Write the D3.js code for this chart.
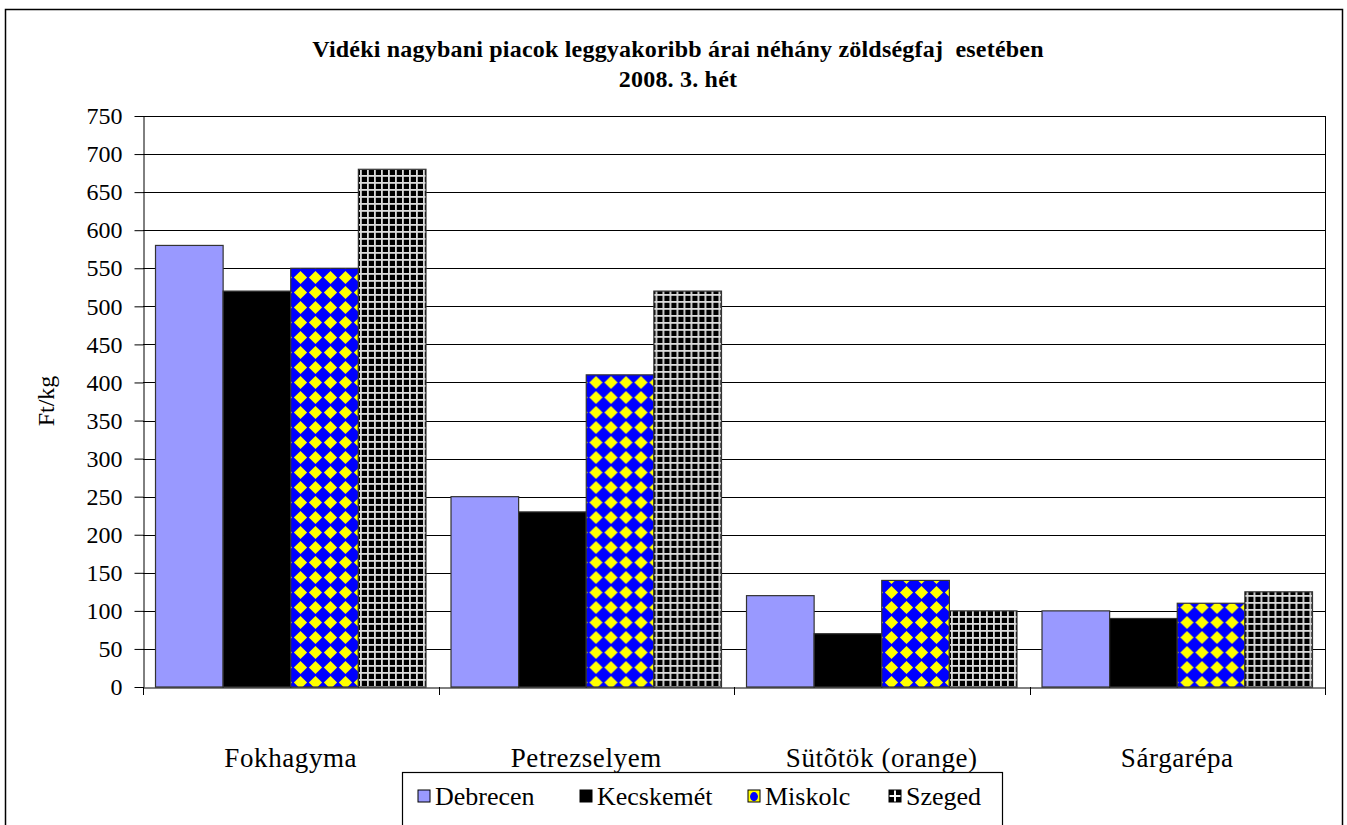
<!DOCTYPE html>
<html>
<head>
<meta charset="utf-8">
<script src="https://cdn.jsdelivr.net/npm/d3@7"></script>
<style>
body { margin: 0; background: #fff; }
svg { display: block; font-family: "Liberation Serif", "Times New Roman", serif; }
</style>
</head>
<body>
<div id="chart"></div>
<script>
var categories = ["Fokhagyma", "Petrezselyem", "Sütõtök (orange)", "Sárgarépa"];
var cities = ["Debrecen", "Kecskemét", "Miskolc", "Szeged"];
var debrecen = [580, 250, 120, 100];
var kecskemet = [520, 230, 70, 90];
var miskolc = [550, 410, 140, 110];
var szeged = [680, 520, 100, 125];
var yTicks = d3.range(0, 751, 50);

var series = [debrecen, kecskemet, miskolc, szeged];
var fills = ["#9999ff", "#000000", "url(#pMiskolc)", "url(#pSzeged)"];
var legFills = ["#9999ff", "#000000", "url(#lMiskolc)", "url(#lSzeged)"];

var width = 1347, height = 825;
var pLeft = 143, pRight = 1325, pTop = 116, pBottom = 687;

var svg = d3.select("#chart").append("svg")
    .attr("width", width)
    .attr("height", height);

var defs = svg.append("defs");
var pm = defs.append("pattern").attr("id", "pMiskolc")
    .attr("patternUnits", "userSpaceOnUse")
    .attr("width", 15).attr("height", 15);
pm.append("rect").attr("width", 15).attr("height", 15).attr("fill", "#0000ff");
pm.append("path").attr("d", "M7.5,0.9 L14.1,7.5 L7.5,14.1 L0.9,7.5 Z").attr("fill", "#ffff00");

var ps = defs.append("pattern").attr("id", "pSzeged")
    .attr("patternUnits", "userSpaceOnUse")
    .attr("width", 7).attr("height", 7);
ps.append("rect").attr("width", 7).attr("height", 7).attr("fill", "#000");
ps.append("rect").attr("x", 0).attr("y", 0).attr("width", 7).attr("height", 1.8).attr("fill", "#dcdcdc");
ps.append("rect").attr("x", 0).attr("y", 0).attr("width", 1.8).attr("height", 7).attr("fill", "#dcdcdc");

// legend swatches get their own small patterns
var lm = defs.append("pattern").attr("id", "lMiskolc")
    .attr("patternContentUnits", "objectBoundingBox").attr("width", 1).attr("height", 1);
lm.append("rect").attr("width", 1).attr("height", 1).attr("fill", "#ffff00");
lm.append("ellipse").attr("cx", 0.5).attr("cy", 0.55).attr("rx", 0.33).attr("ry", 0.38).attr("fill", "#0000ff");
var ls = defs.append("pattern").attr("id", "lSzeged")
    .attr("patternContentUnits", "objectBoundingBox").attr("width", 1).attr("height", 1);
ls.append("rect").attr("width", 1).attr("height", 1).attr("fill", "#000");
ls.append("rect").attr("x", 0).attr("y", 0.42).attr("width", 1).attr("height", 0.16).attr("fill", "#fff");
ls.append("rect").attr("x", 0.42).attr("y", 0).attr("width", 0.16).attr("height", 1).attr("fill", "#fff");

// outer frame
svg.append("rect")
    .attr("x", 5.5).attr("y", 9.5)
    .attr("width", 1337).attr("height", 840)
    .attr("fill", "none").attr("stroke", "#000").attr("stroke-width", 1.5);

var x0 = d3.scaleBand().domain(categories).range([pLeft, pRight]).paddingInner(0).paddingOuter(0);
var x1 = d3.scaleBand().domain(cities).range([0, x0.bandwidth()]).paddingInner(0).paddingOuter(0.185);
var y = d3.scaleLinear().domain([0, 750]).range([pBottom, pTop]);

// gridlines
svg.append("g").selectAll("line").data(yTicks.slice(1)).enter().append("line")
    .attr("x1", pLeft).attr("x2", pRight)
    .attr("y1", function(d) { return Math.round(y(d)) + 0.5; })
    .attr("y2", function(d) { return Math.round(y(d)) + 0.5; })
    .attr("stroke", "#000").attr("stroke-width", 1);

// plot right border
svg.append("line").attr("x1", pRight + 0.5).attr("x2", pRight + 0.5)
    .attr("y1", pTop).attr("y2", pBottom).attr("stroke", "#000");

// bars
var groups = svg.append("g").selectAll("g").data(categories).enter().append("g")
    .attr("transform", function(d) { return "translate(" + x0(d) + ",0)"; });

groups.selectAll("rect")
    .data(function(d, i) { return series.map(function(s, j) { return { city: cities[j], v: s[i], k: j }; }); })
    .enter().append("rect")
    .attr("x", function(d) { return x1(d.city); })
    .attr("y", function(d) { return y(d.v); })
    .attr("width", x1.bandwidth())
    .attr("height", function(d) { return pBottom - y(d.v); })
    .attr("fill", function(d) { return fills[d.k]; })
    .attr("stroke", "#333").attr("stroke-width", 1.2);

// y axis
var yAxis = svg.append("g")
    .attr("transform", "translate(" + (pLeft + 0.5) + ",0)")
    .call(d3.axisLeft(y).tickValues(yTicks).tickSize(9).tickPadding(12).tickSizeOuter(0));
yAxis.select(".domain").attr("stroke", "#000");
yAxis.selectAll("line").attr("stroke", "#000");
yAxis.selectAll("text").attr("font-size", 24).attr("fill", "#000")
    .attr("font-family", "Liberation Serif");

// x axis
var xAxis = svg.append("g")
    .attr("transform", "translate(0," + (pBottom + 0.5) + ")")
    .call(d3.axisBottom(x0).tickSize(0).tickPadding(0).tickSizeOuter(0));
xAxis.select(".domain").attr("stroke", "#000");
xAxis.selectAll("text").attr("font-size", 27).attr("fill", "#000")
    .attr("letter-spacing", 0.6)
    .attr("font-family", "Liberation Serif").attr("dy", 0).attr("y", 79);
// category separators
svg.append("g").selectAll("line").data(categories.concat(["end"])).enter().append("line")
    .attr("x1", function(d, i) { return Math.round(pLeft + i * x0.bandwidth()) + 0.5; })
    .attr("x2", function(d, i) { return Math.round(pLeft + i * x0.bandwidth()) + 0.5; })
    .attr("y1", pBottom).attr("y2", pBottom + 8)
    .attr("stroke", "#000");

// title
svg.append("text").attr("x", 678).attr("y", 57).attr("text-anchor", "middle")
    .attr("font-size", 24).attr("font-weight", "bold").attr("letter-spacing", 0.2)
    .attr("xml:space", "preserve")
    .text("Vidéki nagybani piacok leggyakoribb árai néhány zöldségfaj  esetében");
svg.append("text").attr("x", 678).attr("y", 87).attr("text-anchor", "middle")
    .attr("font-size", 24).attr("font-weight", "bold").attr("letter-spacing", 0.2)
    .text("2008. 3. hét");

// y label
svg.append("text").attr("transform", "translate(54,401) rotate(-90)")
    .attr("text-anchor", "middle").attr("font-size", 24)
    .text("Ft/kg");

// legend
var lg = svg.append("g");
lg.append("rect").attr("x", 402.5).attr("y", 772.5).attr("width", 600).attr("height", 60)
    .attr("fill", "#fff").attr("stroke", "#000").attr("stroke-width", 1.2);
var legX = [418, 580, 748, 889];
cities.forEach(function(c, i) {
    lg.append("rect").attr("x", legX[i]).attr("y", 790).attr("width", 12).attr("height", 12)
        .attr("fill", legFills[i]).attr("stroke", "#000").attr("stroke-width", 1);
    lg.append("text").attr("x", legX[i] + 17).attr("y", 805).attr("font-size", 26)
        .attr("font-family", "Liberation Serif")
        .text(c);
});
</script>
</body>
</html>
